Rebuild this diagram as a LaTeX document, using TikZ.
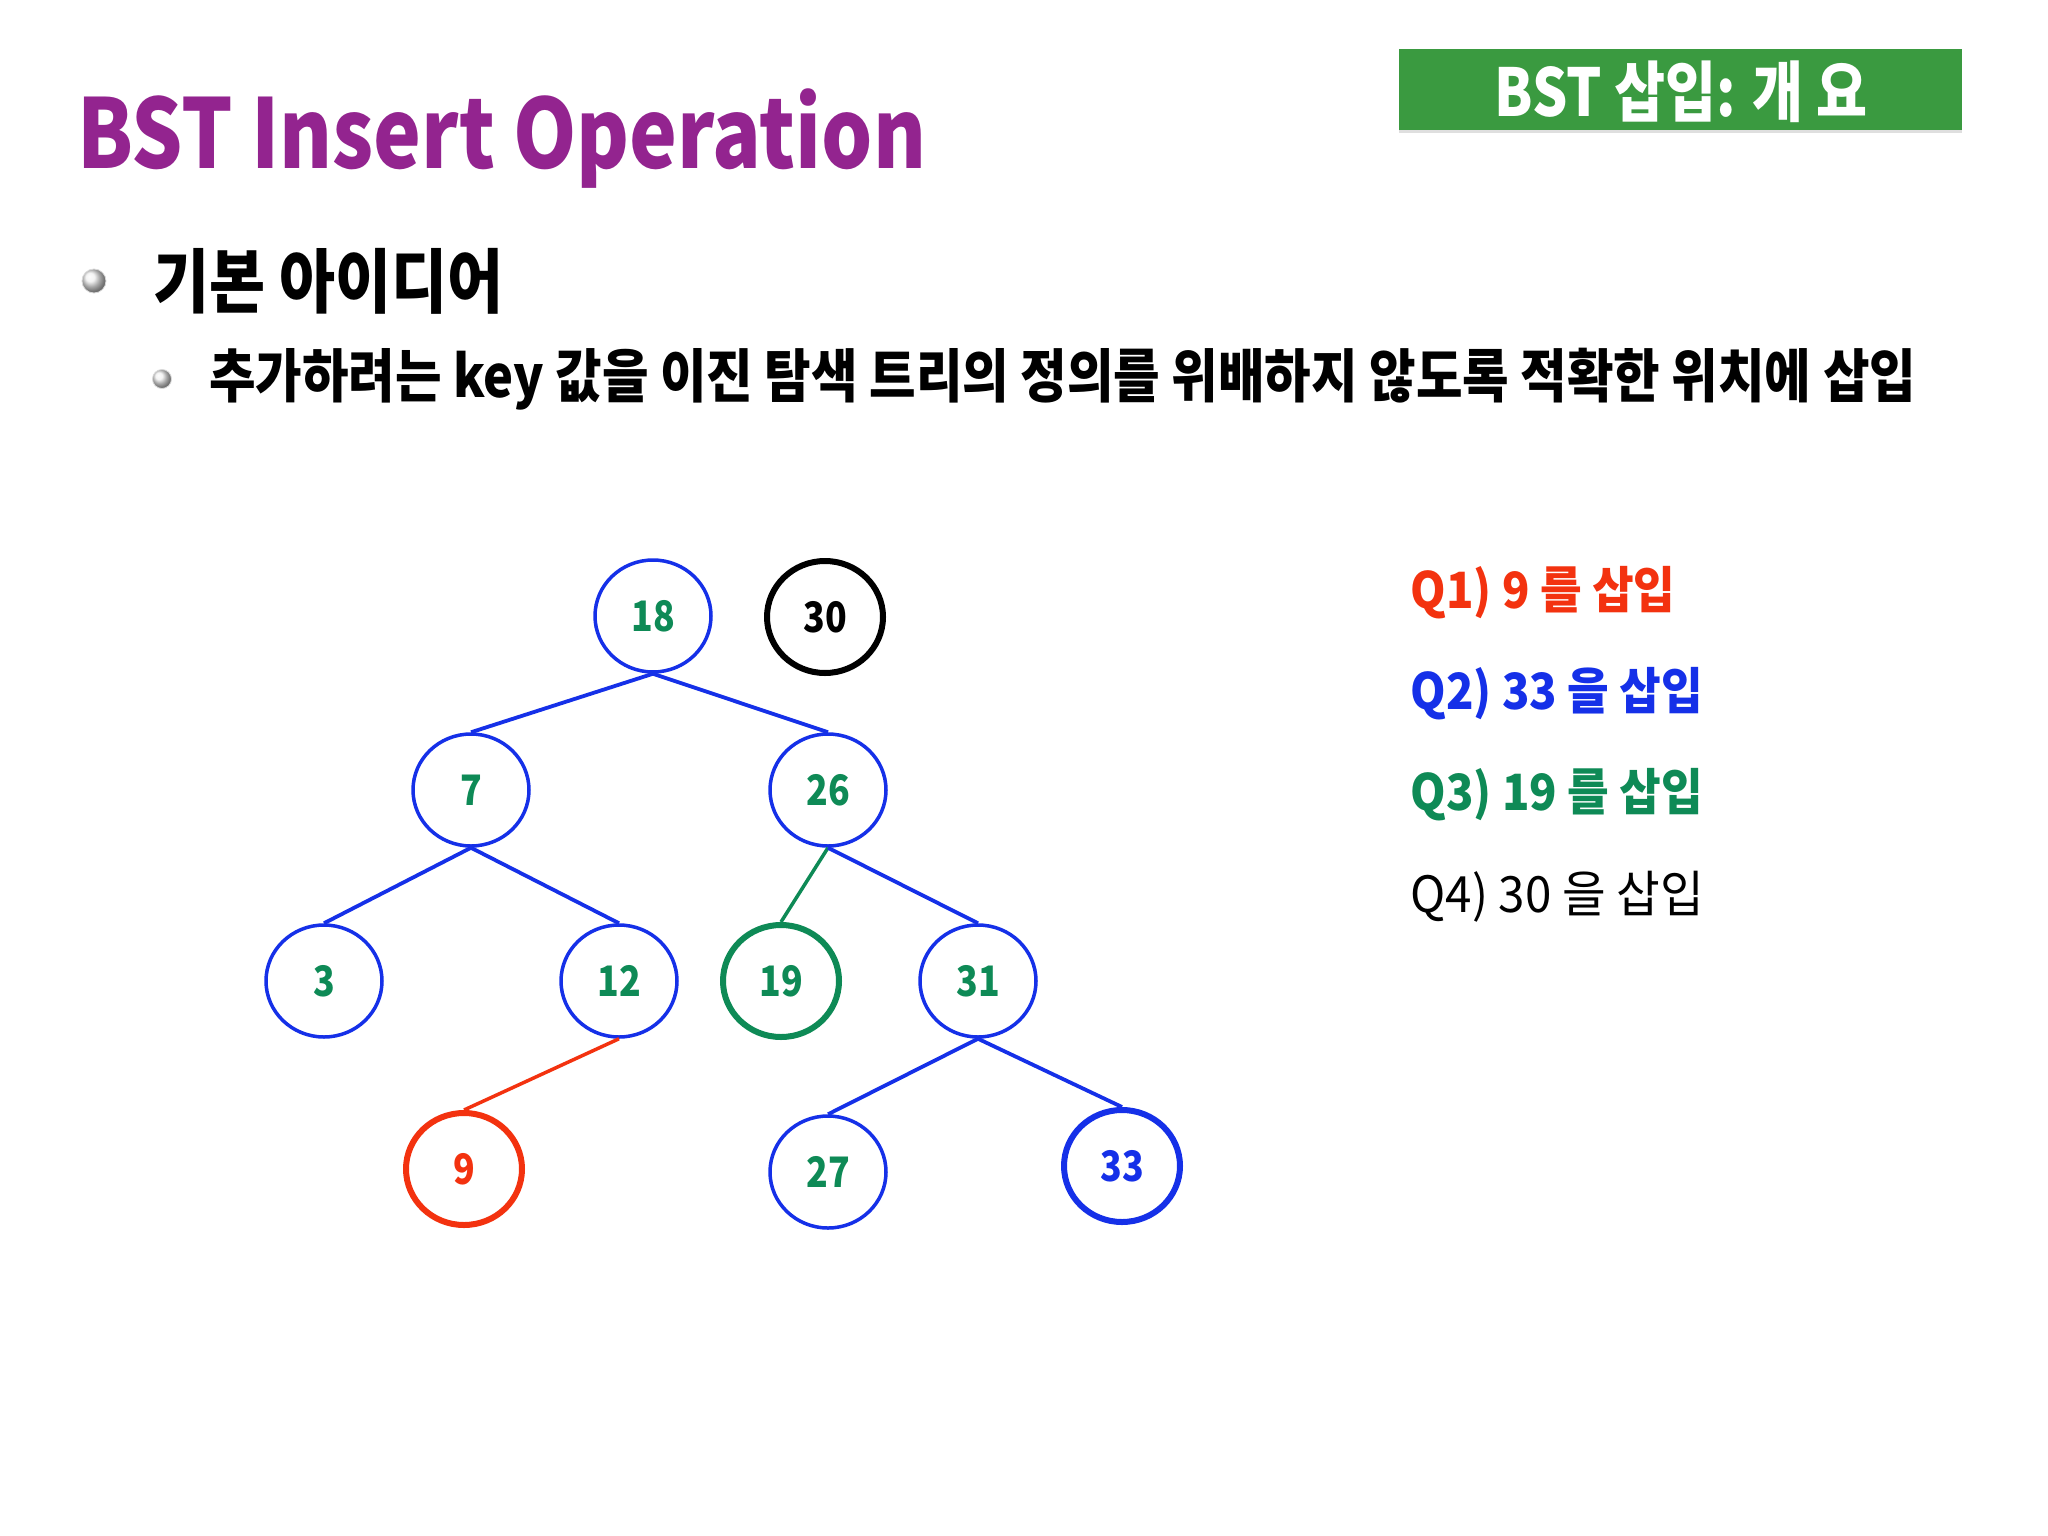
\documentclass[tikz,border=0pt]{standalone}
\usepackage{fontspec}
\setmainfont{Noto Sans CJK KR}
\usetikzlibrary{shapes.geometric,shadows}
\definecolor{ttlpurple}{HTML}{93248F}
\definecolor{boxgreen}{HTML}{3A9A40}
\definecolor{tblue}{HTML}{1530E8}
\definecolor{tgreen}{HTML}{0E8A56}
\definecolor{tred}{HTML}{F3320F}
\newcommand{\sx}[2]{\scalebox{#1}[1]{#2}}
\tikzset{
  tnode/.style={ellipse, draw=tblue, line width=3.5pt, minimum width=116pt, minimum height=112pt, inner sep=0pt,
     text=tgreen, font=\fontsize{42}{44}\selectfont\bfseries},
  thick node/.style={line width=6pt},
  tedge/.style={draw=tblue, line width=3.8pt},
  qline/.style={anchor=base west, font=\fontsize{50}{52}\selectfont},
  bulletball/.style={circle, inner sep=0pt, shading=ball, ball color=gray!12, draw=gray!30, line width=0.8pt}
}
\newcommand{\num}[1]{\sx{0.85}{#1}}
\begin{document}
\begin{tikzpicture}[x=1pt,y=-1pt]
\fill[white] (0,0) rectangle (2048,1536);
\useasboundingbox (0,0) rectangle (2048,1536);
% title
\node[anchor=base west, inner sep=0pt, text=ttlpurple, font=\fontsize{96}{100}\selectfont\bfseries] (title) at (77,168) {\sx{0.84}{BST Insert Operation}};
% green tag
\node[fill=boxgreen, minimum width=563pt, minimum height=81pt, inner sep=0pt, drop shadow={opacity=0.25, shadow xshift=0pt, shadow yshift=-3pt}] (tag) at (1680,90) {};
\node[text=white, font=\fontsize{66}{68}\selectfont\bfseries, inner sep=0pt] (tagtext) at (1681,92) {\sx{0.84}{BST 삽입: 개 요}};
% bullets
\node[bulletball, minimum size=24pt] (b1) at (94,281) {};
\node[anchor=west, inner sep=0pt, font=\fontsize{70}{72}\selectfont\bfseries] (l1) at (153,281) {\sx{0.87}{기본 아이디어}};
\node[bulletball, minimum size=19pt] (b2) at (162,379) {};
\node[anchor=west, inner sep=0pt, font=\fontsize{58}{60}\selectfont\bfseries] (l2) at (209,379) {\sx{0.872}{추가하려는 key 값을 이진 탐색 트리의 정의를 위배하지 않도록 적확한 위치에 삽입}};
% tree
\node[tnode] (n18) at (653,616) {\num{18}};
\node[tnode, draw=black, text=black, thick node] (n30) at (825,617) {\num{30}};
\node[tnode] (n7) at (471,790) {\num{7}};
\node[tnode] (n26) at (828,790) {\num{26}};
\node[tnode] (n3) at (324,981) {\num{3}};
\node[tnode] (n12) at (619,981) {\num{12}};
\node[tnode, draw=tgreen, thick node] (n19) at (781,981) {\num{19}};
\node[tnode] (n31) at (978,981) {\num{31}};
\node[tnode, draw=tred, text=tred, thick node] (n9) at (464,1169) {\num{9}};
\node[tnode] (n27) at (828,1172) {\num{27}};
\node[tnode, text=tblue, thick node] (n33) at (1122,1166) {\num{33}};
\draw[tedge] (n18.south) -- (n7.north);
\draw[tedge] (n18.south) -- (n26.north);
\draw[tedge] (n7.south) -- (n3.north);
\draw[tedge] (n7.south) -- (n12.north);
\draw[draw=tgreen, line width=3.5pt] (n26.south) -- (n19.north);
\draw[tedge] (n26.south) -- (n31.north);
\draw[draw=tred, line width=3.5pt] (n12.south) -- (n9.north);
\draw[tedge] (n31.south) -- (n27.north);
\draw[tedge] (n31.south) -- (n33.north);
% questions
\node[qline, text=tred, font=\fontsize{50}{52}\selectfont\bfseries] (q1) at (1407,608) {\sx{0.905}{Q1) 9 를 삽입}};
\node[qline, text=tblue, font=\fontsize{50}{52}\selectfont\bfseries] (q2) at (1407,709) {\sx{0.905}{Q2) 33 을 삽입}};
\node[qline, text=tgreen, font=\fontsize{50}{52}\selectfont\bfseries] (q3) at (1407,810) {\sx{0.905}{Q3) 19 를 삽입}};
\node[qline, text=black] (q4) at (1407,912) {\sx{0.95}{Q4) 30 을 삽입}};
\end{tikzpicture}
\end{document}
